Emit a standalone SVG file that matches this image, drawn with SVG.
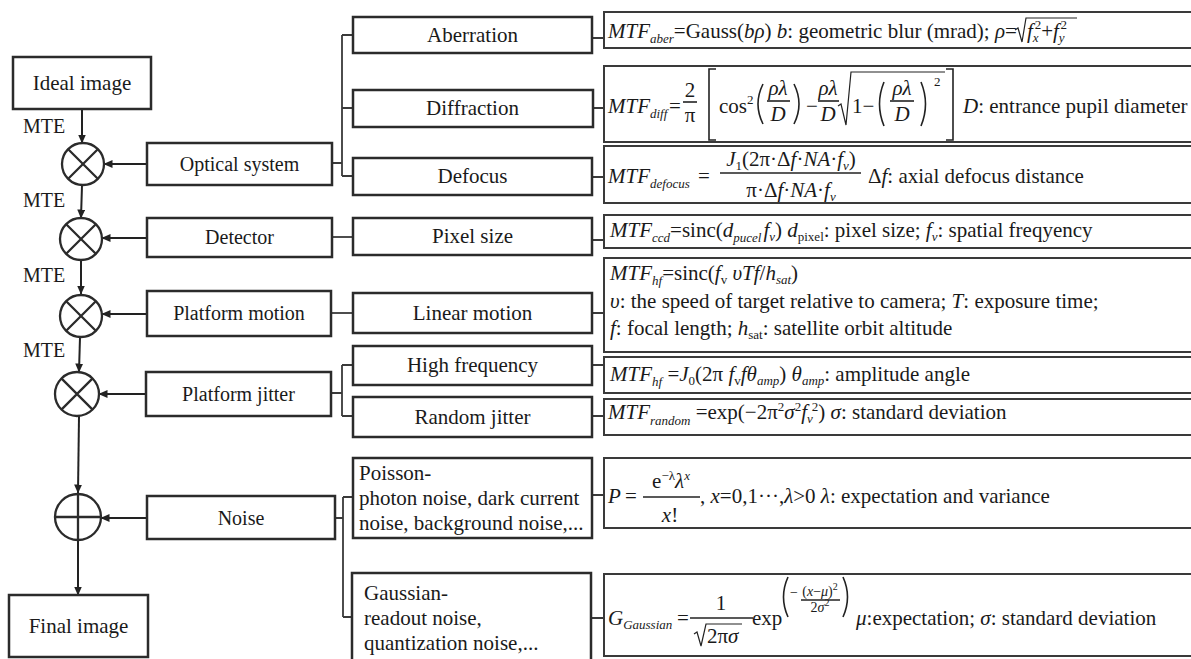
<svg xmlns="http://www.w3.org/2000/svg" width="1191" height="659" viewBox="0 0 1191 659">
<defs>
<style>
.b{fill:#fff;stroke:#2b2b2b;stroke-width:2.5}
.fb{fill:#fff;stroke:#3a3a3a;stroke-width:2}
.c{fill:none;stroke:#2b2b2b;stroke-width:2.3}
.w{fill:none;stroke:#3a3a3a;stroke-width:1.8}
.a{fill:none;stroke:#222;stroke-width:2;marker-end:url(#ah)}
.r{fill:none;stroke:#222;stroke-width:1.2}
.br{fill:none;stroke:#222;stroke-width:1.6}
text{font-family:"Liberation Serif","Times New Roman",serif;fill:#1a1a1a}
.n{font-size:20px;text-anchor:middle}
.m{font-size:21px;text-anchor:middle}
.t{font-size:21px}
.f{font-size:21px}
.fm{font-size:21px;text-anchor:middle}
.e{font-size:14px;text-anchor:middle}
.i{font-style:italic}
.s{font-size:13px}
.lab{font-size:20px}
</style>
<marker id="ah" markerWidth="9" markerHeight="8" refX="8.5" refY="4" orient="auto" markerUnits="userSpaceOnUse"><path d="M0,0 L9,4 L0,8 z" fill="#222"/></marker>
</defs>
<rect width="1191" height="659" fill="#fff"/>

<g id="connectors">
<line class="a" x1="82" y1="110" x2="82" y2="143"/>
<line class="a" x1="82" y1="185" x2="81" y2="218"/>
<line class="a" x1="81" y1="260" x2="81" y2="294"/>
<line class="a" x1="80" y1="337" x2="79" y2="372"/>
<line class="a" x1="79" y1="416" x2="78" y2="493"/>
<line class="a" x1="78" y1="540" x2="78" y2="595"/>
<line class="a" x1="147" y1="164" x2="104" y2="164"/>
<line class="a" x1="147" y1="238" x2="102" y2="238"/>
<line class="a" x1="147" y1="314" x2="102" y2="314"/>
<line class="a" x1="146" y1="394" x2="99" y2="394"/>
<line class="a" x1="147" y1="518" x2="101" y2="518"/>
<text class="lab" x="23" y="133">MTE</text>
<text class="lab" x="23" y="207">MTE</text>
<text class="lab" x="23" y="282">MTE</text>
<text class="lab" x="23" y="357">MTE</text>
<path class="w" d="M332,163 H342 M342,35 V176 M342,35 H353 M342,108 H353 M342,176 H353"/>
<path class="w" d="M332,237 H353"/>
<path class="w" d="M331,313 H353"/>
<path class="w" d="M331,393 H342 M342,365 V416 M342,365 H353 M342,416 H353"/>
<path class="w" d="M335,518 H343 M343,497 V617 M343,497 H353 M343,617 H352"/>
<path class="w" d="M592,38 H604 M592,108 H604 M592,177 H604 M592,240 H604 M592,313 H604 M592,365 H604 M592,416 H604 M592,495 H604 M591,618 H604"/>
</g>

<g id="ideal"><rect class="b" x="13" y="57" width="138" height="52"/><text class="n" x="82" y="90" style="font-size:21px">Ideal image</text></g>
<g id="mult1"><circle class="c" cx="83" cy="164" r="21"/><path class="c" d="M68.2,149.2 L97.8,178.8 M97.8,149.2 L68.2,178.8"/></g>
<g id="mult2"><circle class="c" cx="81" cy="239" r="21"/><path class="c" d="M66.2,224.2 L95.8,253.8 M95.8,224.2 L66.2,253.8"/></g>
<g id="mult3"><circle class="c" cx="81" cy="316" r="21"/><path class="c" d="M66.2,301.2 L95.8,330.8 M95.8,301.2 L66.2,330.8"/></g>
<g id="mult4"><circle class="c" cx="77" cy="394" r="22"/><path class="c" d="M61.4,378.4 L92.6,409.6 M92.6,378.4 L61.4,409.6"/></g>
<g id="add"><circle class="c" cx="78" cy="517" r="23"/><path class="c" d="M55,517 H101 M78,494 V540"/></g>
<g id="final"><rect class="b" x="9" y="595" width="139" height="62"/><text class="n" x="78.5" y="633" style="font-size:21px">Final image</text></g>

<g id="optical"><rect class="b" x="147" y="143" width="185" height="42"/><text class="n" x="239.5" y="171">Optical system</text></g>
<g id="detector"><rect class="b" x="147" y="218" width="185" height="39"/><text class="n" x="239.5" y="244">Detector</text></g>
<g id="platform-motion"><rect class="b" x="147" y="291" width="184" height="45"/><text class="n" x="239" y="320">Platform motion</text></g>
<g id="platform-jitter"><rect class="b" x="146" y="372" width="185" height="44"/><text class="n" x="238.5" y="401">Platform jitter</text></g>
<g id="noise"><rect class="b" x="147" y="496" width="188" height="43"/><text class="n" x="241" y="525">Noise</text></g>

<g id="aberration"><rect class="b" x="353" y="17" width="239" height="36"/><text class="m" x="472.5" y="42">Aberration</text></g>
<g id="diffraction"><rect class="b" x="353" y="90" width="240" height="37"/><text class="m" x="472.5" y="115">Diffraction</text></g>
<g id="defocus"><rect class="b" x="353" y="158" width="239" height="37"/><text class="m" x="472.5" y="183">Defocus</text></g>
<g id="pixel-size"><rect class="b" x="353" y="218" width="239" height="37"/><text class="m" x="472.5" y="243">Pixel size</text></g>
<g id="linear-motion"><rect class="b" x="353" y="293" width="239" height="40"/><text class="m" x="472.5" y="320">Linear motion</text></g>
<g id="high-frequency"><rect class="b" x="353" y="346" width="239" height="39"/><text class="m" x="472.5" y="372">High frequency</text></g>
<g id="random-jitter"><rect class="b" x="353" y="397" width="239" height="40"/><text class="m" x="472.5" y="424">Random jitter</text></g>
<g id="poisson"><rect class="b" x="353" y="458" width="239" height="80"/>
<text class="t" x="359" y="480">Poisson-</text>
<text class="t" x="359" y="505">photon noise, dark current</text>
<text class="t" x="359" y="530">noise, background noise,...</text></g>
<g id="gaussian"><rect class="b" x="352" y="573" width="239" height="92"/>
<text class="t" x="364" y="600">Gaussian-</text>
<text class="t" x="364" y="625">readout noise,</text>
<text class="t" x="364" y="650">quantization noise,...</text></g>

<g id="f-aberration"><rect class="fb" x="604" y="12" width="595" height="36"/>
<text class="f" x="608" y="38"><tspan class="i">MTF</tspan><tspan class="s i" dy="5">aber</tspan><tspan dy="-5">=Gauss(</tspan><tspan class="i">bρ</tspan>) <tspan class="i">b</tspan>: geometric blur (mrad); <tspan class="i">ρ</tspan>=</text>
<path class="r" d="M1015,30 L1018,28 L1022,42 L1026,18 L1077,18"/>
<text class="f" x="1027" y="38"><tspan class="i">f</tspan><tspan class="s i" dy="4">x</tspan><tspan class="s" dx="-4" dy="-13">2</tspan><tspan dy="9">+</tspan><tspan class="i">f</tspan><tspan class="s i" dy="4">y</tspan><tspan class="s" dx="-4" dy="-13">2</tspan></text>
</g>

<g id="f-diffraction"><rect class="fb" x="604" y="66" width="595" height="76"/>
<text class="f" x="608" y="113"><tspan class="i">MTF</tspan><tspan class="s i" dy="5">diff</tspan></text>
<text class="f" x="669" y="113">=</text>
<text class="fm" x="690" y="97">2</text><line class="br" x1="683" y1="102" x2="697" y2="102"/><text class="fm" x="690" y="122">π</text>
<path class="br" d="M716,69 H709 V140 H716"/>
<text class="f" x="719" y="113">cos</text><text class="s" x="747" y="104">2</text>
<path class="br" d="M763,84 Q753,104 763,124"/>
<text class="fm i" x="778" y="95">ρλ</text><line class="br" x1="767" y1="101" x2="790" y2="101"/><text class="fm i" x="778" y="121">D</text>
<path class="br" d="M794,84 Q804,104 794,124"/>
<text class="f" x="806" y="113">−</text>
<text class="fm i" x="828" y="95">ρλ</text><line class="br" x1="818" y1="101" x2="839" y2="101"/><text class="fm i" x="828" y="121">D</text>
<path class="r" d="M838,106 L841,104 L846,125 L851,72 L945,72"/>
<text class="f" x="852" y="113">1−</text>
<path class="br" d="M884,82 Q875,104 884,126"/>
<text class="fm i" x="902" y="95">ρλ</text><line class="br" x1="890" y1="101" x2="914" y2="101"/><text class="fm i" x="902" y="121">D</text>
<path class="br" d="M921,82 Q930,104 921,126"/>
<text class="s" x="934" y="86">2</text>
<path class="br" d="M946,69 H953 V140 H946"/>
<text class="f" x="963" y="113"><tspan class="i">D</tspan>: entrance pupil diameter</text>
</g>

<g id="f-defocus"><rect class="fb" x="604" y="146" width="595" height="57"/>
<text class="f" x="608" y="183"><tspan class="i">MTF</tspan><tspan class="s i" dy="5">defocus</tspan></text>
<text class="f" x="698" y="183">=</text>
<text class="fm" x="791" y="166"><tspan class="i">J</tspan><tspan class="s" dy="4">1</tspan><tspan dy="-4">(2π·Δ</tspan><tspan class="i">f</tspan>·<tspan class="i">NA</tspan>·<tspan class="i">f</tspan><tspan class="s i" dy="4">v</tspan><tspan dy="-4">)</tspan></text>
<line class="br" x1="720" y1="173" x2="861" y2="173"/>
<text class="fm" x="791" y="197">π·Δ<tspan class="i">f</tspan>·<tspan class="i">NA</tspan>·<tspan class="i">f</tspan><tspan class="s i" dy="4">v</tspan></text>
<text class="f" x="868" y="183">Δ<tspan class="i">f</tspan>: axial defocus distance</text>
</g>

<g id="f-pixel"><rect class="fb" x="604" y="215" width="595" height="33"/>
<text class="f" x="610" y="237"><tspan class="i">MTF</tspan><tspan class="s i" dy="5">ccd</tspan><tspan dy="-5">=sinc(</tspan><tspan class="i">d</tspan><tspan class="s i" dy="5">pucel</tspan><tspan class="i" dx="2" dy="-5">f</tspan><tspan class="s i" dy="4">v</tspan><tspan dy="-4">) </tspan><tspan class="i">d</tspan><tspan class="s" dy="4">pixel</tspan><tspan dy="-4">: pixel size; </tspan><tspan class="i">f</tspan><tspan class="s i" dy="4">v</tspan><tspan dy="-4">: spatial freqyency</tspan></text>
</g>

<g id="f-linear"><rect class="fb" x="604" y="258" width="595" height="94"/>
<text class="f" x="610" y="280"><tspan class="i">MTF</tspan><tspan class="s i" dy="5">hf</tspan><tspan dy="-5">=sinc(</tspan><tspan class="i">f</tspan><tspan class="s" dy="4">v</tspan><tspan class="i" dy="-4"> υTf</tspan>/<tspan class="i">h</tspan><tspan class="s i" dy="4">sat</tspan><tspan dy="-4">)</tspan></text>
<text class="f" x="610" y="308"><tspan class="i">υ</tspan>: the speed of target relative to camera; <tspan class="i">T</tspan>: exposure time;</text>
<text class="f" x="610" y="335"><tspan class="i">f</tspan>: focal length; <tspan class="i">h</tspan><tspan class="s" dy="4">sat</tspan><tspan dy="-4">: satellite orbit altitude</tspan></text>
</g>

<g id="f-highfreq"><rect class="fb" x="604" y="357" width="595" height="36"/>
<text class="f" x="610" y="381"><tspan class="i">MTF</tspan><tspan class="s i" dy="5">hf</tspan><tspan dy="-5"> =</tspan><tspan class="i">J</tspan><tspan class="s" dy="4">0</tspan><tspan dy="-4">(2π </tspan><tspan class="i">f</tspan><tspan class="s" dy="4">v</tspan><tspan class="i" dy="-4">fθ</tspan><tspan class="s i" dy="4">amp</tspan><tspan dy="-4">) </tspan><tspan class="i">θ</tspan><tspan class="s i" dy="4">amp</tspan><tspan dy="-4">: amplitude angle</tspan></text>
</g>

<g id="f-random"><rect class="fb" x="604" y="399" width="595" height="36"/>
<text class="f" x="608" y="419"><tspan class="i">MTF</tspan><tspan class="s i" dy="6">random</tspan><tspan dy="-6"> =exp(−2π</tspan><tspan class="s" dy="-8">2</tspan><tspan class="i" dy="8">σ</tspan><tspan class="s" dy="-8">2</tspan><tspan class="i" dy="8">f</tspan><tspan class="s i" dy="4">v</tspan><tspan class="s" dx="-1" dy="-12">2</tspan><tspan dy="8">) </tspan><tspan class="i">σ</tspan>: standard deviation</text>
</g>

<g id="f-poisson"><rect class="fb" x="604" y="458" width="595" height="70"/>
<text class="f" x="608" y="503"><tspan class="i">P</tspan></text>
<text class="f" x="625" y="503">=</text>
<text class="fm" x="671" y="488">e<tspan class="s" dy="-8">−λ</tspan><tspan class="i" dy="8">λ</tspan><tspan class="s i" dy="-8">x</tspan></text>
<line class="br" x1="643" y1="497" x2="700" y2="497"/>
<text class="fm" x="670" y="522"><tspan class="i">x</tspan>!</text>
<text class="f" x="700" y="503">, <tspan class="i">x</tspan>=0,1···,<tspan class="i">λ</tspan>&gt;0 <tspan class="i">λ</tspan>: expectation and variance</text>
</g>

<g id="f-gaussian"><rect class="fb" x="604" y="574" width="595" height="82"/>
<text class="f" x="608" y="625"><tspan class="i">G</tspan><tspan class="s i" dy="4">Gaussian</tspan></text>
<text class="f" x="677" y="625">=</text>
<text class="fm" x="721" y="610">1</text>
<line class="br" x1="690" y1="618" x2="753" y2="618"/>
<path class="r" d="M694,634 L697,632 L701,646 L706,624 L742,624"/>
<text class="f" x="707" y="643">2π<tspan class="i">σ</tspan></text>
<text class="f" x="752" y="625">exp</text>
<path class="br" d="M788,577 Q779,597 788,617"/>
<text class="e" x="794" y="597">−</text>
<text class="e" x="820" y="596">(<tspan class="i">x</tspan>−<tspan class="i">μ</tspan>)<tspan style="font-size:10px" dy="-6">2</tspan></text>
<line class="br" x1="801" y1="600" x2="840" y2="600"/>
<text class="e" x="820" y="612">2<tspan class="i">σ</tspan><tspan style="font-size:10px" dy="-6">2</tspan></text>
<path class="br" d="M843,577 Q852,597 843,617"/>
<text class="f" x="856" y="625"><tspan class="i">μ</tspan>:expectation; <tspan class="i">σ</tspan>: standard deviation</text>
</g>
</svg>
